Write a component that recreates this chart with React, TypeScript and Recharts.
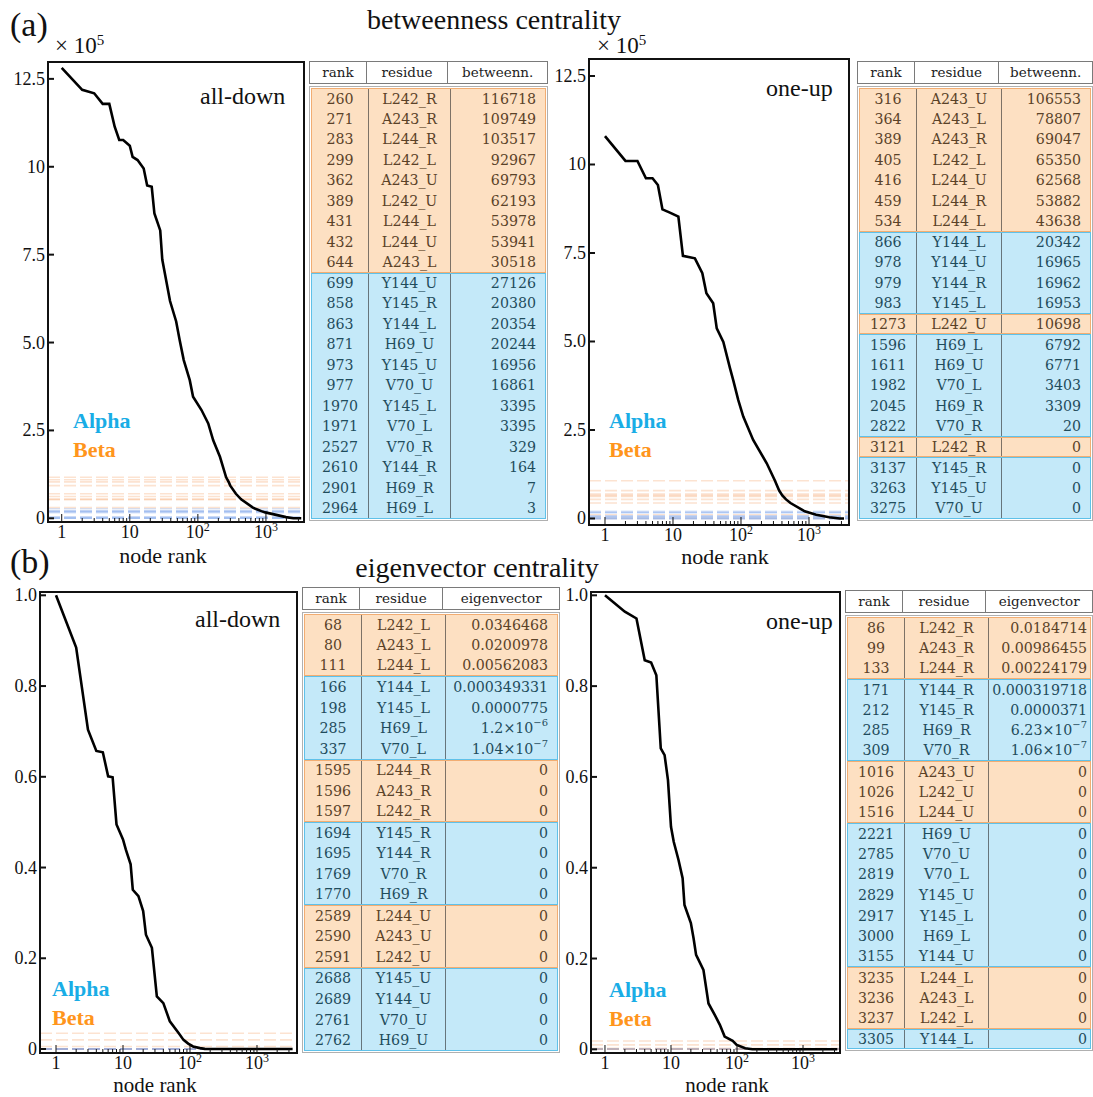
import React from "react";
import { LineChart, Line, XAxis, YAxis, ReferenceLine } from "recharts";

const SERIF = '"Liberation Serif", "Times New Roman", serif';
const TABLE_FONT = '"DejaVu Serif", serif';
const ALPHA = "#19ade6";
const BETA = "#ff951c";
const BETA_FILL = "#fde0c2";
const ALPHA_FILL = "#c4e9f9";
const BETA_EDGE = "#f2ad72";
const ALPHA_EDGE = "#5fc1e9";
const BETA_DASH = "#f6b07a";
const ALPHA_DASH = "#8eb2ee";

// (a) betweenness centrality curves
const betwDownRank = [1, 2, 3, 4, 5, 6, 7, 8, 10, 11, 13, 16, 18, 21, 23, 28, 30, 39, 48, 54, 62, 76, 85, 113, 142, 168, 211, 260, 283, 299, 362, 432, 644, 699, 858, 977, 1970, 2527, 3300];
const betwDownValue = [1281000, 1219000, 1209000, 1179000, 1179000, 1114000, 1076000, 1076000, 1060000, 1028000, 1019000, 995000, 947000, 943000, 867000, 819000, 736000, 618000, 560000, 507000, 450000, 393000, 346000, 308000, 270000, 222000, 175000, 116718, 103517, 92967, 69793, 53941, 30518, 27126, 20380, 16861, 3395, 329, 0];

const betwUpRank = [1, 2, 3, 4, 5, 6, 7, 9, 12, 14, 21, 27, 31, 39, 44, 55, 69, 77, 91, 108, 151, 239, 316, 364, 405, 459, 534, 866, 1273, 1596, 1982, 2822, 3275];
const betwUpValue = [1080000, 1010000, 1010000, 961000, 961000, 942000, 873000, 864000, 853000, 742000, 735000, 693000, 636000, 608000, 537000, 499000, 424000, 390000, 335000, 288000, 222000, 156000, 106553, 78807, 65350, 53882, 43638, 20342, 10698, 6792, 3403, 20, 0];

// (b) eigenvector centrality curves
const eigDownRank = [1, 2, 3, 4, 5, 6, 7, 8, 10, 11, 13, 14, 17, 20, 22, 27, 32, 40, 50, 68, 80, 94, 111, 141, 166, 337, 3400];
const eigDownValue = [1.0, 0.885, 0.704, 0.657, 0.654, 0.601, 0.599, 0.495, 0.462, 0.44, 0.407, 0.351, 0.337, 0.304, 0.252, 0.223, 0.116, 0.101, 0.061, 0.0346, 0.0201, 0.012, 0.0056, 0.002, 0.00035, 0, 0];

const eigUpRank = [1, 2, 3, 4, 5, 6, 7, 8, 9, 10, 11, 13, 15, 16, 20, 22, 24, 31, 37, 46, 55, 65, 86, 99, 133, 171, 309, 3305];
const eigUpValue = [1.0, 0.964, 0.949, 0.857, 0.852, 0.824, 0.663, 0.648, 0.593, 0.49, 0.457, 0.417, 0.377, 0.318, 0.278, 0.244, 0.208, 0.175, 0.101, 0.076, 0.054, 0.028, 0.0185, 0.0099, 0.0022, 0.0003, 0, 0];

// tables
const tBetwDownRank = [260, 271, 283, 299, 362, 389, 431, 432, 644, 699, 858, 863, 871, 973, 977, 1970, 1971, 2527, 2610, 2901, 2964];
const tBetwDownRes = ["L242_R", "A243_R", "L244_R", "L242_L", "A243_U", "L242_U", "L244_L", "L244_U", "A243_L", "Y144_U", "Y145_R", "Y144_L", "H69_U", "Y145_U", "V70_U", "Y145_L", "V70_L", "V70_R", "Y144_R", "H69_R", "H69_L"];
const tBetwDownVal = [116718, 109749, 103517, 92967, 69793, 62193, 53978, 53941, 30518, 27126, 20380, 20354, 20244, 16956, 16861, 3395, 3395, 329, 164, 7, 3];

const tBetwUpRank = [316, 364, 389, 405, 416, 459, 534, 866, 978, 979, 983, 1273, 1596, 1611, 1982, 2045, 2822, 3121, 3137, 3263, 3275];
const tBetwUpRes = ["A243_U", "A243_L", "A243_R", "L242_L", "L244_U", "L244_R", "L244_L", "Y144_L", "Y144_U", "Y144_R", "Y145_L", "L242_U", "H69_L", "H69_U", "V70_L", "H69_R", "V70_R", "L242_R", "Y145_R", "Y145_U", "V70_U"];
const tBetwUpVal = [106553, 78807, 69047, 65350, 62568, 53882, 43638, 20342, 16965, 16962, 16953, 10698, 6792, 6771, 3403, 3309, 20, 0, 0, 0, 0];

const tEigDownRank = [68, 80, 111, 166, 198, 285, 337, 1595, 1596, 1597, 1694, 1695, 1769, 1770, 2589, 2590, 2591, 2688, 2689, 2761, 2762];
const tEigDownRes = ["L242_L", "A243_L", "L244_L", "Y144_L", "Y145_L", "H69_L", "V70_L", "L244_R", "A243_R", "L242_R", "Y145_R", "Y144_R", "V70_R", "H69_R", "L244_U", "A243_U", "L242_U", "Y145_U", "Y144_U", "V70_U", "H69_U"];
const tEigDownVal = [0.0346468, 0.0200978, 0.00562083, 0.000349331, 0.0000775, 1.2e-6, 1.04e-7, 0, 0, 0, 0, 0, 0, 0, 0, 0, 0, 0, 0, 0, 0];

const tEigUpRank = [86, 99, 133, 171, 212, 285, 309, 1016, 1026, 1516, 2221, 2785, 2819, 2829, 2917, 3000, 3155, 3235, 3236, 3237, 3305];
const tEigUpRes = ["L242_R", "A243_R", "L244_R", "Y144_R", "Y145_R", "H69_R", "V70_R", "A243_U", "L242_U", "L244_U", "H69_U", "V70_U", "V70_L", "Y145_U", "Y145_L", "H69_L", "Y144_U", "L244_L", "A243_L", "L242_L", "Y144_L"];
const tEigUpVal = [0.0184714, 0.00986455, 0.00224179, 0.000319718, 0.0000371, 6.23e-7, 1.06e-7, 0, 0, 0, 0, 0, 0, 0, 0, 0, 0, 0, 0, 0, 0];

const xTicks = [1, 2, 3, 4, 5, 6, 7, 8, 9, 10, 20, 30, 40, 50, 60, 70, 80, 90, 100, 200, 300, 400, 500, 600, 700, 800, 900, 1000, 2000, 3000];
const majorX = [1, 10, 100, 1000];
const betwTicks = [0, 250000, 500000, 750000, 1000000, 1250000];
const eigTicks = [0, 0.2, 0.4, 0.6, 0.8, 1.0];

const isBeta = (r: string) => /^(L242|A243|L244)/.test(r);

const betwFmt = (v: number) => {
  const s = (v / 100000).toFixed(1);
  return s === "0.0" ? "0" : s === "10.0" ? "10" : s;
};
const eigFmt = (v: number) => (v === 0 ? "0" : v.toFixed(1));

const XTick = (p: any) => {
  const { x, y, payload } = p;
  const v = payload.value;
  const major = majorX.includes(v);
  const exp = v >= 100 ? String(Math.round(Math.log10(v))) : null;
  return (
    <g>
      <line x1={x} x2={x} y1={y - 1} y2={y - (major ? 8 : 4)} stroke="#111" strokeWidth={1} />
      {major && (
        <text x={x} y={y + 16} textAnchor="middle" fontFamily={SERIF} fontSize={18} fill="#111">
          {exp ? (
            <>
              <tspan>10</tspan>
              <tspan dy={-7} fontSize={12}>{exp}</tspan>
            </>
          ) : (
            String(v)
          )}
        </text>
      )}
    </g>
  );
};

const makeYTick = (fmt: (v: number) => string) => (p: any) => {
  const { x, y, payload } = p;
  return (
    <g>
      <line x1={x} x2={x + 6} y1={y} y2={y} stroke="#111" strokeWidth={2} />
      <text x={x - 3} y={y + 6} textAnchor="end" fontFamily={SERIF} fontSize={18} fill="#111">
        {fmt(payload.value)}
      </text>
    </g>
  );
};

type PanelProps = {
  frame: [number, number, number, number];
  xDomain: [number, number];
  yDomain: [number, number];
  yTicks: number[];
  yFmt: (v: number) => string;
  ranks: number[];
  values: number[];
  refVals: number[];
  refRes: string[];
};

const YW = 50;
const XH = 40;

function Panel({ frame, xDomain, yDomain, yTicks, yFmt, ranks, values, refVals, refRes }: PanelProps) {
  const [x0, y0, x1, y1] = frame;
  const data = ranks.map((r, i) => ({ rank: r, v: values[i] }));
  const w = x1 - x0 + 60;
  const h = y1 - y0 + 10 + 70;
  return (
    <>
      <div style={{ position: "absolute", left: x0 - 50, top: y0 - 10 }}>
        <LineChart width={w} height={h} data={data} margin={{ top: 10, left: 50 - YW, right: 10, bottom: 70 - XH }}>
          <XAxis
            dataKey="rank"
            type="number"
            scale="log"
            domain={xDomain}
            allowDataOverflow
            ticks={xTicks}
            interval={0}
            tick={(p: any) => <XTick {...p} />}
            tickLine={false}
            axisLine={false}
            tickSize={0}
            tickMargin={0}
            height={XH}
          />
          <YAxis
            type="number"
            domain={yDomain}
            allowDataOverflow
            ticks={yTicks}
            interval={0}
            tick={makeYTick(yFmt)}
            tickLine={false}
            axisLine={false}
            tickSize={0}
            tickMargin={0}
            width={YW}
          />
          {refVals.map((v, i) => (
            <ReferenceLine
              key={i}
              y={v}
              stroke={isBeta(refRes[i]) ? BETA_DASH : ALPHA_DASH}
              strokeOpacity={0.35}
              strokeWidth={1.6}
              strokeDasharray="12 4"
            />
          ))}
          <Line dataKey="v" stroke="#000" strokeWidth={2.6} dot={false} isAnimationActive={false} type="linear" />
        </LineChart>
      </div>
      <div
        style={{
          position: "absolute",
          left: x0 - 1,
          top: y0 - 1,
          width: x1 - x0 + 2,
          height: y1 - y0 + 2,
          border: "2.5px solid #111",
          boxSizing: "border-box",
          pointerEvents: "none",
        }}
      />
    </>
  );
}

function Txt({ x, y, size, children, anchor = "start", color = "#111", bold = false }: any) {
  const tx = anchor === "middle" ? "-50%" : anchor === "end" ? "-100%" : "0";
  return (
    <div
      style={{
        position: "absolute",
        left: x,
        top: y,
        transform: `translate(${tx}, -50%)`,
        fontFamily: SERIF,
        fontSize: size,
        fontWeight: bold ? 700 : 400,
        color,
        whiteSpace: "nowrap",
        lineHeight: 1,
      }}
    >
      {children}
    </div>
  );
}

const eigCell = (v: number) => {
  if (v === 0) return "0";
  if (v < 1e-5) {
    const [m, e] = v.toExponential().split("e");
    return (
      <>
        {m}×10
        <span style={{ fontSize: "0.7em", position: "relative", top: "-0.55em" }}>{e.replace("-", "−")}</span>
      </>
    );
  }
  return String(v);
};

type TableProps = {
  x: number;
  headTop: number;
  bodyTop: number;
  rowH: number;
  cols: number[];
  title: string;
  ranks: number[];
  res: string[];
  vals: number[];
  cell: (v: number) => any;
  pad?: number;
};

function DataTable({ x, headTop, bodyTop, rowH, cols, title, ranks, res, vals, cell, pad = 9 }: TableProps) {
  const total = cols.reduce((a, b) => a + b, 0);
  const heads = ["rank", "residue", title];
  return (
    <>
      <div
        style={{
          position: "absolute",
          left: x,
          top: headTop,
          width: total,
          height: 23,
          display: "flex",
          border: "1px solid #7a7a7a",
          boxSizing: "border-box",
          background: "#fff",
          fontFamily: TABLE_FONT,
          fontSize: 13.5,
          color: "#222",
        }}
      >
        {heads.map((hd, i) => (
          <div
            key={i}
            style={{
              width: cols[i] - (i === 0 ? 1 : 0),
              textAlign: "center",
              lineHeight: "21px",
              borderRight: i < 2 ? "1px solid #7a7a7a" : "none",
              boxSizing: "border-box",
            }}
          >
            {hd}
          </div>
        ))}
      </div>
      <div
        style={{
          position: "absolute",
          left: x,
          top: bodyTop,
          width: total,
          border: "1px solid #b0b0b0",
          boxSizing: "border-box",
          padding: 1,
          background: "#fff",
          fontFamily: TABLE_FONT,
          fontSize: 14.2,
        }}
      >
        {ranks.map((r, i) => {
          const beta = isBeta(res[i]);
          const first = i === 0 || isBeta(res[i - 1]) !== beta;
          const last = i === ranks.length - 1 || isBeta(res[i + 1]) !== beta;
          const edge = beta ? BETA_EDGE : ALPHA_EDGE;
          return (
            <div
              key={i}
              style={{
                display: "flex",
                height: rowH,
                background: beta ? BETA_FILL : ALPHA_FILL,
                color: beta ? "#5a4228" : "#1f4c5c",
                borderLeft: `1px solid ${edge}`,
                borderRight: `1px solid ${edge}`,
                borderTop: first ? `1px solid ${edge}` : "none",
                borderBottom: last ? `1px solid ${edge}` : "none",
                boxSizing: "border-box",
                alignItems: "center",
              }}
            >
              <div style={{ width: cols[0] - 2, textAlign: "center", borderRight: "1px solid rgba(40,40,40,0.6)", height: "100%", display: "flex", alignItems: "center", justifyContent: "center" }}>{r}</div>
              <div style={{ width: cols[1], textAlign: "center", borderRight: "1px solid rgba(40,40,40,0.6)", height: "100%", display: "flex", alignItems: "center", justifyContent: "center", boxSizing: "border-box" }}>{res[i]}</div>
              <div style={{ flex: 1, textAlign: "right", paddingRight: pad, height: "100%", display: "flex", alignItems: "center", justifyContent: "flex-end", whiteSpace: "nowrap" }}>{cell(vals[i])}</div>
            </div>
          );
        })}
      </div>
    </>
  );
}

export default function App() {
  return (
    <div style={{ position: "absolute", left: 0, top: 0, width: 1093, height: 1097, background: "#fff", overflow: "hidden" }}>
      <Txt x={10} y={25} size={34}>(a)</Txt>
      <Txt x={494} y={20} size={28} anchor="middle">betweenness centrality</Txt>
      <Txt x={55} y={45} size={23}>× 10<sup style={{ fontSize: 15 }}>5</sup></Txt>
      <Txt x={597} y={45} size={23}>× 10<sup style={{ fontSize: 15 }}>5</sup></Txt>

      <Panel
        frame={[48, 62, 304, 522]}
        xDomain={[0.629, 3622]}
        yDomain={[-10500, 1298000]}
        yTicks={betwTicks}
        yFmt={betwFmt}
        ranks={betwDownRank}
        values={betwDownValue}
        refVals={tBetwDownVal}
        refRes={tBetwDownRes}
      />
      <Panel
        frame={[589, 59, 849, 525]}
        xDomain={[0.582, 3874]}
        yDomain={[-18400, 1298000]}
        yTicks={betwTicks}
        yFmt={betwFmt}
        ranks={betwUpRank}
        values={betwUpValue}
        refVals={tBetwUpVal}
        refRes={tBetwUpRes}
      />
      <Txt x={200} y={96} size={24}>all-down</Txt>
      <Txt x={766} y={88} size={24}>one-up</Txt>
      <Txt x={73} y={421} size={22} bold color={ALPHA}>Alpha</Txt>
      <Txt x={73} y={450} size={22} bold color={BETA}>Beta</Txt>
      <Txt x={609} y={421} size={22} bold color={ALPHA}>Alpha</Txt>
      <Txt x={609} y={450} size={22} bold color={BETA}>Beta</Txt>
      <Txt x={163} y={556} size={22} anchor="middle">node rank</Txt>
      <Txt x={725} y={557} size={22} anchor="middle">node rank</Txt>

      <DataTable x={309} headTop={61} bodyTop={86} rowH={20.5} cols={[58, 82, 99]} title="betweenn." ranks={tBetwDownRank} res={tBetwDownRes} vals={tBetwDownVal} cell={(v) => String(v)} />
      <DataTable x={857} headTop={61} bodyTop={86} rowH={20.5} cols={[58, 85, 93]} title="betweenn." ranks={tBetwUpRank} res={tBetwUpRes} vals={tBetwUpVal} cell={(v) => String(v)} />

      <Txt x={10} y={562} size={34}>(b)</Txt>
      <Txt x={477} y={568} size={28} anchor="middle">eigenvector centrality</Txt>

      <Panel
        frame={[40, 592, 297, 1053]}
        xDomain={[0.577, 3954]}
        yDomain={[-0.0088, 1.0073]}
        yTicks={eigTicks}
        yFmt={eigFmt}
        ranks={eigDownRank}
        values={eigDownValue}
        refVals={tEigDownVal}
        refRes={tEigDownRes}
      />
      <Panel
        frame={[591, 592, 840, 1053]}
        xDomain={[0.614, 3633]}
        yDomain={[-0.0081, 1.0073]}
        yTicks={eigTicks}
        yFmt={eigFmt}
        ranks={eigUpRank}
        values={eigUpValue}
        refVals={tEigUpVal}
        refRes={tEigUpRes}
      />
      <Txt x={195} y={619} size={24}>all-down</Txt>
      <Txt x={766} y={621} size={24}>one-up</Txt>
      <Txt x={52} y={989} size={22} bold color={ALPHA}>Alpha</Txt>
      <Txt x={52} y={1018} size={22} bold color={BETA}>Beta</Txt>
      <Txt x={609} y={990} size={22} bold color={ALPHA}>Alpha</Txt>
      <Txt x={609} y={1019} size={22} bold color={BETA}>Beta</Txt>
      <Txt x={155} y={1085} size={21} anchor="middle">node rank</Txt>
      <Txt x={727} y={1085} size={21} anchor="middle">node rank</Txt>

      <DataTable x={302} headTop={587} bodyTop={612} rowH={20.8} cols={[58, 84, 116]} title="eigenvector" ranks={tEigDownRank} res={tEigDownRes} vals={tEigDownVal} cell={eigCell} />
      <DataTable x={845} headTop={590} bodyTop={615} rowH={20.6} cols={[58, 84, 106]} title="eigenvector" ranks={tEigUpRank} res={tEigUpRes} vals={tEigUpVal} cell={eigCell} pad={3} />
    </div>
  );
}
